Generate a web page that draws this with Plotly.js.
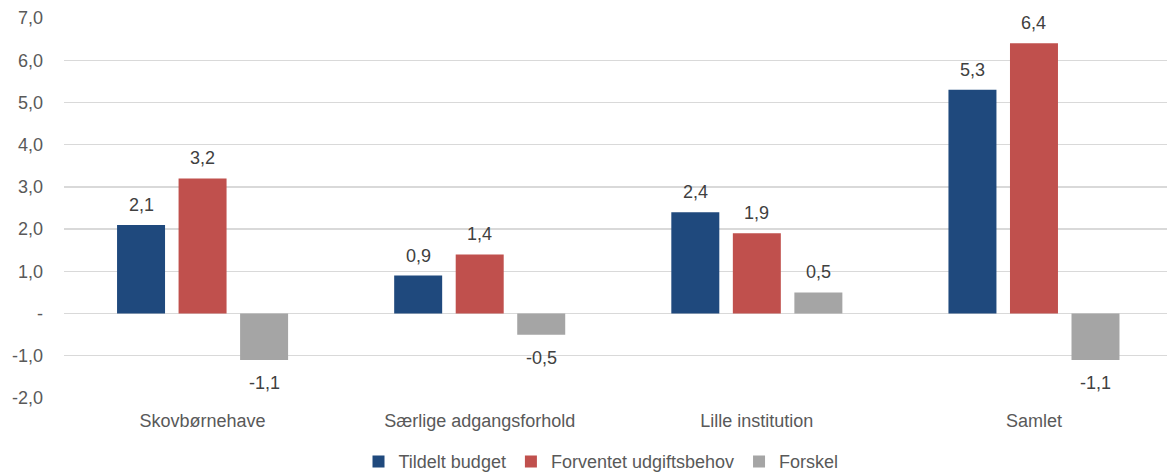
<!DOCTYPE html>
<html><head><meta charset="utf-8">
<script src="https://cdn.plot.ly/plotly-3.0.1.min.js"></script>
<style>html,body{margin:0;padding:0;background:#fff}#chart{width:1167px;height:475px}</style>
</head><body><div id="chart"></div>
<script>
const categories = ["Skovbørnehave", "Særlige adgangsforhold", "Lille institution", "Samlet"];
const seriesNames = ["Tildelt budget", "Forventet udgiftsbehov", "Forskel"];
const tildelt = [2.1, 0.9, 2.4, 5.3];
const forventet = [3.2, 1.4, 1.9, 6.4];
const forskel = [-1.1, -0.5, 0.5, -1.1];
const tickVals = [-2, -1, 0, 1, 2, 3, 4, 5, 6, 7];
const tickText = ["-2,0", "-1,0", "-", "1,0", "2,0", "3,0", "4,0", "5,0", "6,0", "7,0"];
const colors = ["#1F497D", "#C0504D", "#A5A5A5"];

const allSeries = [tildelt, forventet, forskel];
const fmt = v => v.toFixed(1).replace(".", ",");
const FONT = "Liberation Sans, Arial, sans-serif";
const traces = allSeries.map((vals, i) => ({
  type: "bar", name: seriesNames[i], x: categories, y: vals,
  marker: {color: colors[i]}, hoverinfo: "none"
}));

const slotPx = 61.5;
const annotations = [];
allSeries.forEach((vals, i) => {
  vals.forEach((v, j) => {
    annotations.push({
      x: categories[j], y: v, xref: "x", yref: "y",
      text: fmt(v), showarrow: false,
      xshift: (i - 1) * slotPx,
      yshift: v >= 0 ? 20 : -23,
      font: {family: FONT, size: 18, color: "#404040"}
    });
  });
});

const layout = {
  width: 1167, height: 475,
  margin: {l: 64, r: 0, t: 18, b: 77},
  paper_bgcolor: "#fff", plot_bgcolor: "#fff",
  barmode: "group", bargap: 0.334, bargroupgap: 0.22,
  font: {family: FONT, size: 18, color: "#595959"},
  xaxis: {type: "category", range: [-0.5, 3.48], showgrid: false, zeroline: false,
          showline: false, ticks: "", ticklabelstandoff: 10, automargin: false,
          tickfont: {size: 18, color: "#595959"}},
  yaxis: {range: [-2, 7], tickvals: tickVals, ticktext: tickText,
          showgrid: true, gridcolor: "#D9D9D9", gridwidth: 1.3,
          zeroline: true, zerolinecolor: "#D9D9D9", zerolinewidth: 1.3,
          showline: false, ticks: "", ticklabelstandoff: 20, automargin: false,
          tickfont: {size: 18, color: "#595959"}},
  showlegend: true,
  legend: {orientation: "h", xref: "container", yref: "container",
           x: 0.515, xanchor: "center", y: 0.028, yanchor: "middle",
           font: {size: 18, color: "#595959"}, itemwidth: 30, traceorder: "normal"},
  annotations: annotations
};
Plotly.newPlot("chart", traces, layout, {displayModeBar: false, staticPlot: true});
</script></body></html>
